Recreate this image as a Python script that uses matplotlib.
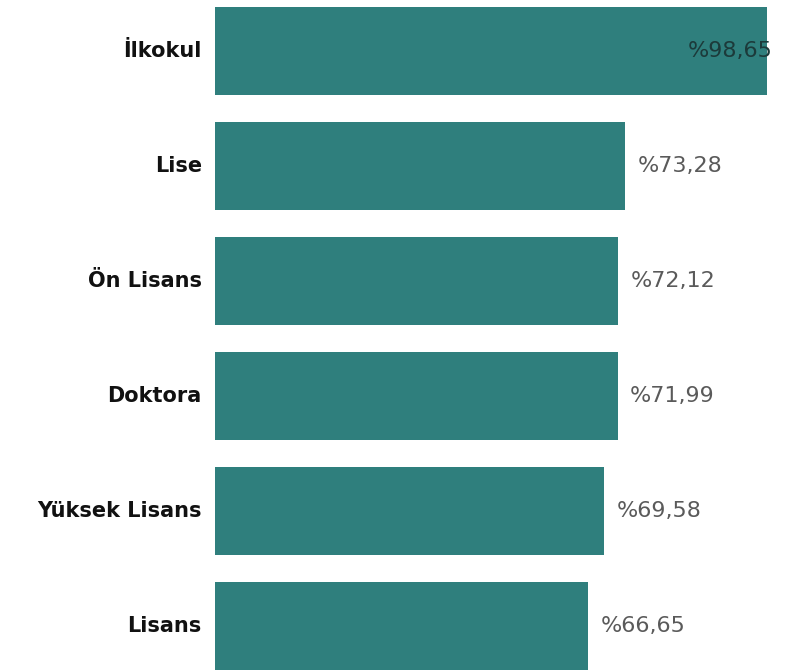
import matplotlib
matplotlib.use("Agg")
import matplotlib.pyplot as plt

categories = ["İlkokul", "Lise", "Ön Lisans", "Doktora", "Yüksek Lisans", "Lisans"]
values = [98.65, 73.28, 72.12, 71.99, 69.58, 66.65]
value_labels = ["%98,65", "%73,28", "%72,12", "%71,99", "%69,58", "%66,65"]

bar_color = "#2F7F7D"

fig = plt.figure(figsize=(7.9, 6.71), dpi=100)
ax = fig.add_axes([215 / 790, 0, 575 / 790, 1])

positions = list(range(len(categories)))
ax.barh(positions, values, height=0.765, color=bar_color)

ax.set_xlim(0, 102.8)
ax.set_ylim(5.39, -0.443)
ax.axis("off")

# category names, right-aligned just left of the bars
for pos, name in zip(positions, categories):
    ax.annotate(name, xy=(0, pos), xytext=(-9.5, 0), textcoords="offset points",
                ha="right", va="center", fontsize=15, fontweight="bold",
                family="DejaVu Sans", color="#111111")

# percentage labels; the longest bar carries its label inside the end
for i, (pos, val, lab) in enumerate(zip(positions, values, value_labels)):
    if i == 0:
        ax.annotate(lab, xy=(val, pos), xytext=(4.5, 0), textcoords="offset points",
                    ha="right", va="center", fontsize=16, family="DejaVu Sans",
                    color="#1c3a3a")
    else:
        ax.annotate(lab, xy=(val, pos), xytext=(9, 0), textcoords="offset points",
                    ha="left", va="center", fontsize=16, family="DejaVu Sans",
                    color="#5a5a5a")

fig.savefig("out.png", dpi=100)
